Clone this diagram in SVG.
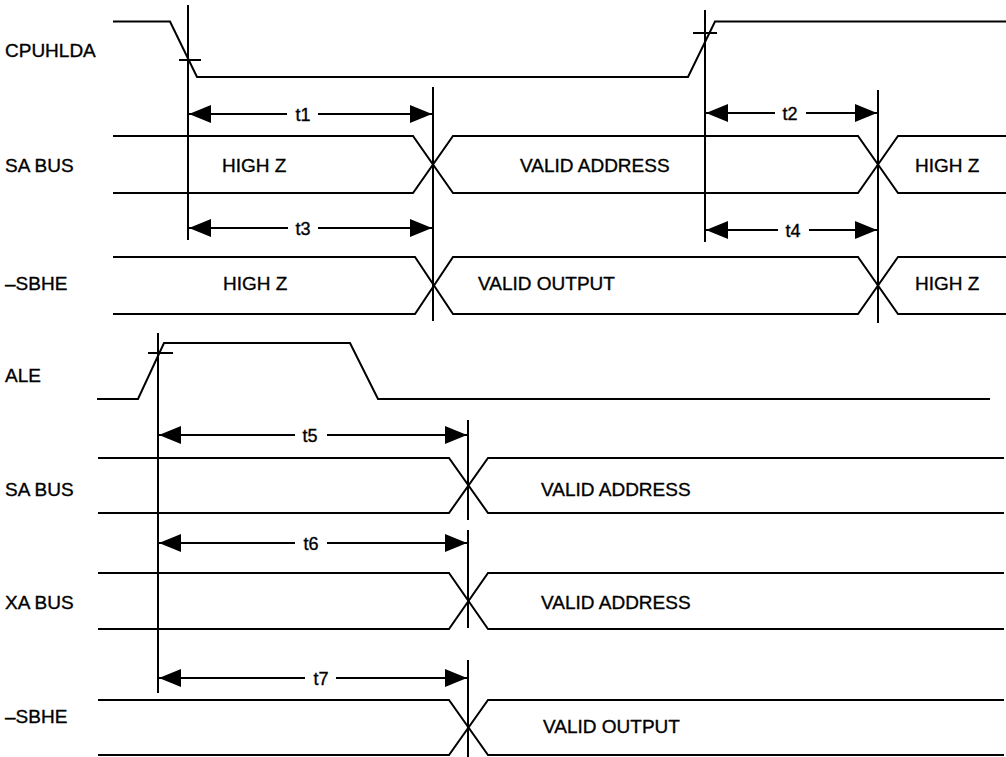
<svg xmlns="http://www.w3.org/2000/svg" width="1006" height="757" viewBox="0 0 1006 757">
<style>
.w{fill:none;stroke:#000;stroke-width:2;stroke-linejoin:miter}
.v{stroke:#000;stroke-width:2}
.t{font-family:"Liberation Sans",Arial,sans-serif;font-size:19px;fill:#000;stroke:#000;stroke-width:0.35}
.m{font-family:"Liberation Sans",Arial,sans-serif;font-size:18px;fill:#000;stroke:#000;stroke-width:0.35;text-anchor:middle}
</style>
<defs>
<marker id="ah" markerWidth="22" markerHeight="18" refX="22" refY="9" orient="auto-start-reverse" markerUnits="userSpaceOnUse">
<path d="M0,0 L22,9 L0,18 Z" fill="#000"/>
</marker>
</defs>
<rect width="1006" height="757" fill="#fff"/>
<g id="labels">
<text class="t" x="5" y="57">CPUHLDA</text>
<text class="t" x="5" y="172">SA BUS</text>
<text class="t" x="5" y="290">–SBHE</text>
<text class="t" x="5" y="382">ALE</text>
<text class="t" x="5" y="496">SA BUS</text>
<text class="t" x="5" y="609">XA BUS</text>
<text class="t" x="5" y="723">–SBHE</text>
</g>
<g id="cpuhlda">
<path class="w" d="M113,21.5 H170 L197,77 H688 L715,21.5 H1006"/>
<path class="v" d="M179,60 H201 M693,33 H717"/>
</g>
<g id="sabus1">
<path class="w" d="M113,136 H413 L453,193 H858 L898,136 H1006"/>
<path class="w" d="M113,193 H413 L453,136 H858 L898,193 H1006"/>
<text class="t" x="222" y="172">HIGH Z</text>
<text class="t" x="520" y="172">VALID ADDRESS</text>
<text class="t" x="915" y="172">HIGH Z</text>
</g>
<g id="sbhe1">
<path class="w" d="M113,257 H415 L453,314 H858 L898,257 H1006"/>
<path class="w" d="M113,314 H415 L453,257 H858 L898,314 H1006"/>
<text class="t" x="223" y="290">HIGH Z</text>
<text class="t" x="478" y="290">VALID OUTPUT</text>
<text class="t" x="915" y="290">HIGH Z</text>
</g>
<g id="ale">
<path class="w" d="M97,399 H138 L164,343 H350 L378,399 H990"/>
<path class="v" d="M148,353 H173"/>
</g>
<g id="sabus2">
<path class="w" d="M98,458 H449 L488,513 H1004"/>
<path class="w" d="M98,513 H449 L488,458 H1004"/>
<text class="t" x="541" y="496">VALID ADDRESS</text>
</g>
<g id="xabus">
<path class="w" d="M98,573 H449 L488,629 H1004"/>
<path class="w" d="M98,629 H449 L488,573 H1004"/>
<text class="t" x="541" y="609">VALID ADDRESS</text>
</g>
<g id="sbhe2">
<path class="w" d="M98,700 H449 L488,755 H1004"/>
<path class="w" d="M98,755 H449 L488,700 H1004"/>
<text class="t" x="543" y="733">VALID OUTPUT</text>
</g>
<g id="connectors">
<path class="v" d="M188,5 V240 M433,87 V321 M705,10 V242 M878,90 V323 M158,333 V693 M468,420 V520 M468,530 V628 M468,660 V757"/>
<line class="v" x1="287" y1="114" x2="189" y2="114" marker-end="url(#ah)"/>
<line class="v" x1="318" y1="114" x2="432" y2="114" marker-end="url(#ah)"/>
<text class="m" x="303" y="121">t1</text>
<line class="v" x1="775" y1="113" x2="706" y2="113" marker-end="url(#ah)"/>
<line class="v" x1="806" y1="113" x2="877" y2="113" marker-end="url(#ah)"/>
<text class="m" x="790" y="120">t2</text>
<line class="v" x1="288" y1="228" x2="189" y2="228" marker-end="url(#ah)"/>
<line class="v" x1="318" y1="228" x2="432" y2="228" marker-end="url(#ah)"/>
<text class="m" x="303" y="235">t3</text>
<line class="v" x1="778" y1="230" x2="706" y2="230" marker-end="url(#ah)"/>
<line class="v" x1="809" y1="230" x2="877" y2="230" marker-end="url(#ah)"/>
<text class="m" x="793" y="237">t4</text>
<line class="v" x1="295" y1="435" x2="159" y2="435" marker-end="url(#ah)"/>
<line class="v" x1="327" y1="435" x2="467" y2="435" marker-end="url(#ah)"/>
<text class="m" x="310" y="442">t5</text>
<line class="v" x1="295" y1="543" x2="159" y2="543" marker-end="url(#ah)"/>
<line class="v" x1="327" y1="543" x2="467" y2="543" marker-end="url(#ah)"/>
<text class="m" x="311" y="550">t6</text>
<line class="v" x1="305" y1="678" x2="159" y2="678" marker-end="url(#ah)"/>
<line class="v" x1="336" y1="678" x2="467" y2="678" marker-end="url(#ah)"/>
<text class="m" x="321" y="685">t7</text>
</g>
</svg>
